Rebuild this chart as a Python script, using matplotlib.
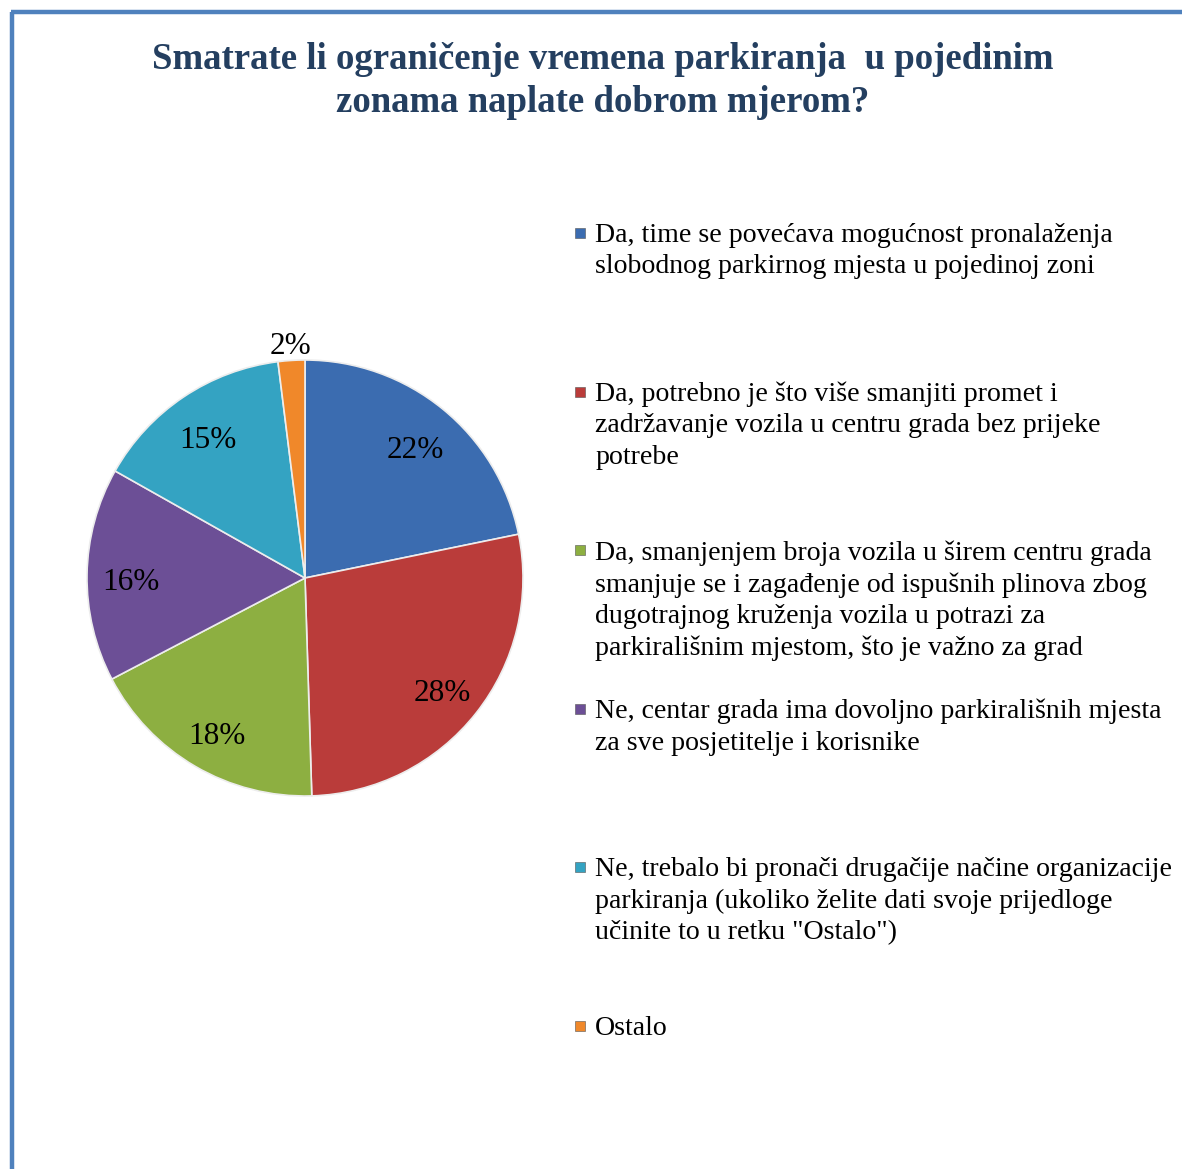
import matplotlib
matplotlib.use("Agg")
import matplotlib.pyplot as plt
from matplotlib.patches import Rectangle
from matplotlib.lines import Line2D
import numpy as np

title = "Smatrate li ograničenje vremena parkiranja  u pojedinim\nzonama naplate dobrom mjerom?"
categories = [
    "Da, time se povećava mogućnost pronalaženja\nslobodnog parkirnog mjesta u pojedinoj zoni",
    "Da, potrebno je što više smanjiti promet i\nzadržavanje vozila u centru grada bez prijeke\npotrebe",
    "Da, smanjenjem broja vozila u širem centru grada\nsmanjuje se i zagađenje od ispušnih plinova zbog\ndugotrajnog kruženja vozila u potrazi za\nparkirališnim mjestom, što je važno za grad",
    "Ne, centar grada ima dovoljno parkirališnih mjesta\nza sve posjetitelje i korisnike",
    "Ne, trebalo bi pronači drugačije načine organizacije\nparkiranja (ukoliko želite dati svoje prijedloge\nučinite to u retku \"Ostalo\")",
    "Ostalo",
]
values = [22, 28, 18, 16, 15, 2]
colors = ["#3B6CB0", "#BA3C3A", "#8DAF41", "#6C4F96", "#34A3C2", "#F0882A"]

W, H = 1182, 1169
fig = plt.figure(figsize=(W / 100, H / 100), dpi=100)
fig.patch.set_facecolor("white")
serif = "Liberation Serif"

# border
fig.add_artist(Line2D([12 / W, 12 / W], [0, 1 - 12 / H], transform=fig.transFigure,
                      color="#4F81BD", lw=3.2, solid_capstyle="butt"))
fig.add_artist(Line2D([10.5 / W, 1], [1 - 12 / H, 1 - 12 / H], transform=fig.transFigure,
                      color="#4F81BD", lw=3.2, solid_capstyle="butt"))

fig.text(603 / W, 1 - 42 / H, title, ha="center", va="top", fontsize=26.5,
         fontweight="bold", family=serif, color="#243F60", linespacing=1.3)

# pie
cx, cy, R = 305, 578, 218
half = 1.2 * R
ax = fig.add_axes([(cx - half) / W, (H - cy - half) / H, 2 * half / W, 2 * half / H])
wedges, texts, autotexts = ax.pie(
    values, colors=colors, startangle=90, counterclock=False, radius=1.0,
    autopct=lambda p: f"{p * sum(values) / 100:.0f}%", pctdistance=0.8,
    wedgeprops=dict(edgecolor="#EDEDED", linewidth=1.2),
    textprops=dict(fontsize=22.5, family=serif, color="black"),
)
ax.set_xlim(-1.2, 1.2)
ax.set_ylim(-1.2, 1.2)
ax.set_aspect("equal")
ax.axis("off")
# move the small slice label outside
w = wedges[-1]
ang = np.deg2rad((w.theta1 + w.theta2) / 2)
autotexts[-1].set_position((1.1 * np.cos(ang), 1.1 * np.sin(ang)))
for t in autotexts:
    x, y = t.get_position()
    t.set_position((x, y - 0.035))

# legend (manual)
y0 = 233
step = 158.6
for i, (lab, col) in enumerate(zip(categories, colors)):
    y = y0 + i * step
    fig.add_artist(Rectangle((575 / W, 1 - (y + 5) / H), 10 / W, 10 / H,
                             transform=fig.transFigure, facecolor=col,
                             edgecolor="#555555", linewidth=0.4))
    fig.text(595 / W, 1 - (y - 10) / H, lab, ha="left", va="top", fontsize=20.1,
             family=serif, color="black", linespacing=1.33)

fig.savefig("out.png", dpi=100)
